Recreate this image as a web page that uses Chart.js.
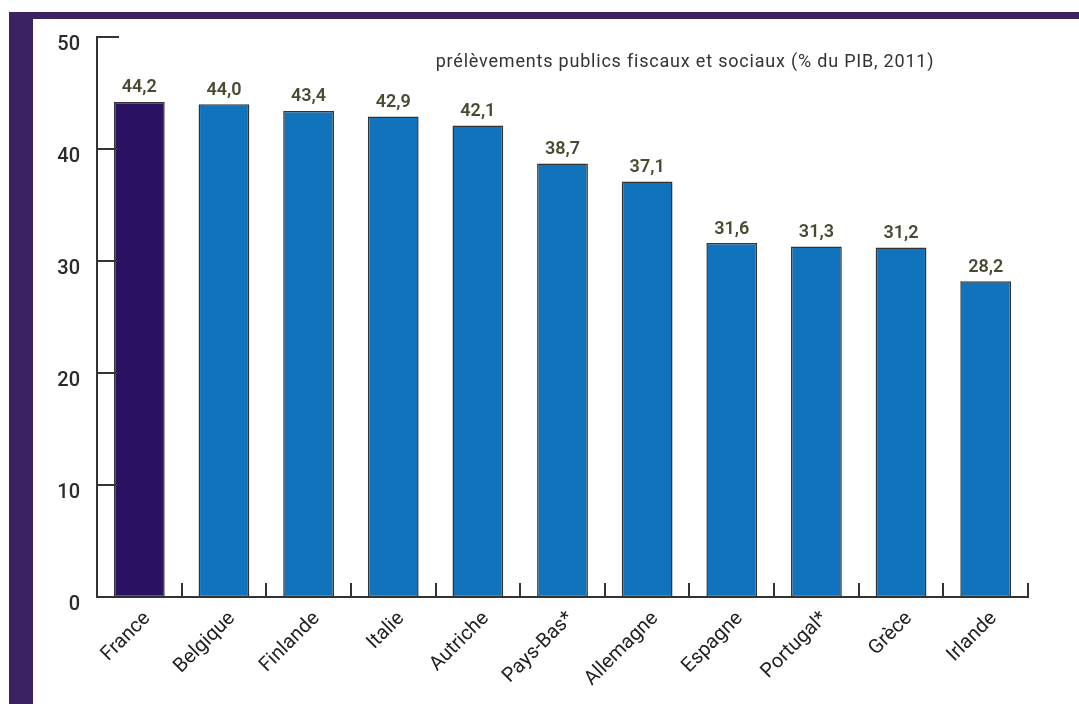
<!DOCTYPE html>
<html lang="fr">
<head>
<meta charset="utf-8">
<title>Prélèvements publics fiscaux et sociaux</title>
<script src="https://cdn.jsdelivr.net/npm/chart.js@4"></script>
<style>
  html, body { margin: 0; padding: 0; background: #fff; }
  body { width: 1079px; height: 704px; position: relative; overflow: hidden; }
  .band-top { position: absolute; left: 9px; top: 12px; width: 1070px; height: 7px; background: #3a2360; }
  .band-left { position: absolute; left: 9px; top: 12px; width: 24px; height: 692px; background: #3a2360; }
  .wrap { position: absolute; left: 33px; top: 19px; width: 1046px; height: 685px; }
</style>
</head>
<body>
<div class="band-top"></div>
<div class="band-left"></div>
<div class="wrap"><canvas id="prelevementsChart"></canvas></div>
<script>
// Données
const pays = ['France', 'Belgique', 'Finlande', 'Italie', 'Autriche', 'Pays-Bas*', 'Allemagne', 'Espagne', 'Portugal*', 'Grèce', 'Irlande'];
const valeurs = [44.2, 44.0, 43.4, 42.9, 42.1, 38.7, 37.1, 31.6, 31.3, 31.2, 28.2];
const graduations = [0, 10, 20, 30, 40, 50];
const titre = 'prélèvements publics fiscaux et sociaux (% du PIB, 2011)';

const couleurFrance = '#2b1161';
const couleurAutres = '#1173bb';
const couleurAxe = '#333333';

// Petites graduations vers l'intérieur + étiquettes de valeur + titre
const decorations = {
    id: 'decorations',
    afterDraw(chart) {
        const ctx = chart.ctx;
        const area = chart.chartArea;
        const y = chart.scales.y;
        ctx.save();
        ctx.strokeStyle = couleurAxe;
        ctx.lineWidth = 2;
        // graduations de l'axe y
        graduations.forEach(v => {
            const py = Math.round(y.getPixelForValue(v));
            ctx.beginPath();
            ctx.moveTo(area.left, py);
            ctx.lineTo(area.left + 22, py);
            ctx.stroke();
        });
        // graduations entre les catégories
        const pas = (area.right - area.left) / pays.length;
        for (let i = 1; i <= pays.length; i++) {
            const px = Math.round(area.left + i * pas);
            ctx.beginPath();
            ctx.moveTo(px, area.bottom);
            ctx.lineTo(px, area.bottom - 14);
            ctx.stroke();
        }
        // valeurs au-dessus des barres
        ctx.fillStyle = '#4a4a32';
        ctx.font = '600 18px Roboto, sans-serif';
        ctx.textAlign = 'center';
        ctx.textBaseline = 'bottom';
        chart.getDatasetMeta(0).data.forEach((bar, i) => {
            ctx.fillText(valeurs[i].toFixed(1).replace('.', ','), bar.x, bar.y - 5);
        });
        // titre
        ctx.fillStyle = '#333333';
        ctx.font = '18px Roboto, sans-serif';
        ctx.letterSpacing = '0.8px';
        ctx.textBaseline = 'middle';
        ctx.fillText(titre, 652, 43);
        ctx.restore();
    }
};

document.addEventListener('DOMContentLoaded', function() {
    const ctx = document.getElementById('prelevementsChart').getContext('2d');
    new Chart(ctx, {
        type: 'bar',
        data: {
            labels: pays,
            datasets: [{
                data: valeurs,
                backgroundColor: pays.map(p => p === 'France' ? couleurFrance : couleurAutres),
                borderColor: couleurAxe,
                borderWidth: 1.5,
                borderSkipped: false,
                barPercentage: 0.6,
                categoryPercentage: 1
            }]
        },
        options: {
            responsive: true,
            maintainAspectRatio: false,
            animation: false,
            layout: { padding: { top: 18, right: 51, left: 0, bottom: 0 } },
            plugins: {
                legend: { display: false },
                tooltip: { enabled: false }
            },
            scales: {
                x: {
                    grid: { display: false, drawTicks: false },
                    border: { display: true, color: couleurAxe, width: 2 },
                    ticks: {
                        color: '#222222',
                        font: { family: 'Roboto, sans-serif', size: 20 },
                        minRotation: 45,
                        maxRotation: 45,
                        padding: 10,
                        labelOffset: 8,
                        autoSkip: false
                    },
                    afterFit: function(scale) {
                        scale.height = 107;
                        scale.paddingLeft = 0;
                        scale.paddingRight = 0;
                    }
                },
                y: {
                    min: 0,
                    max: 50,
                    grid: { display: false, drawTicks: false },
                    border: { display: true, color: couleurAxe, width: 2 },
                    ticks: {
                        stepSize: 10,
                        color: '#2a2a2a',
                        font: { family: 'Roboto, sans-serif', size: 20, weight: '500' },
                        padding: 17,
                        labelOffset: 8
                    },
                    afterFit: function(scale) {
                        scale.width = 64;
                        scale.paddingTop = 0;
                        scale.paddingBottom = 0;
                    }
                }
            }
        },
        plugins: [decorations]
    });
});
</script>
</body>
</html>
